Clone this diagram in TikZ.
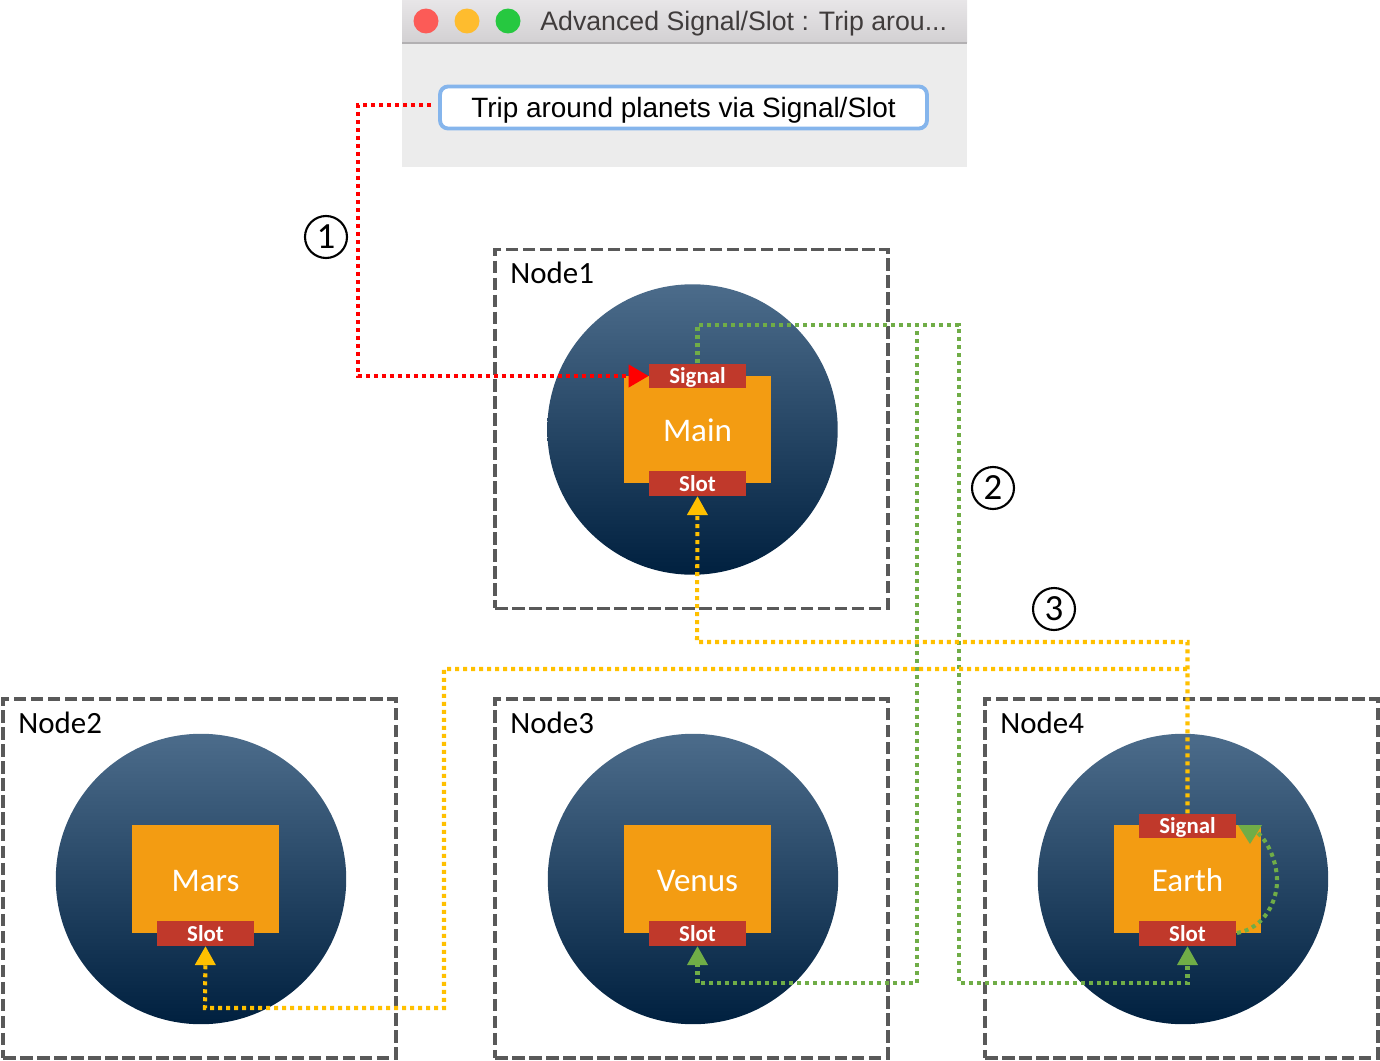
\documentclass[tikz,border=0pt]{standalone}
\usepackage{fontspec}
\setmainfont{Carlito}
\newfontfamily\macfont{Liberation Sans}
\usetikzlibrary{arrows.meta}

\definecolor{boxgray}{HTML}{595959}
\definecolor{planettop}{HTML}{4C6C8B}
\definecolor{planetbot}{HTML}{00203F}
\definecolor{objorange}{HTML}{F39C12}
\definecolor{portred}{HTML}{C0392B}
\definecolor{linkgreen}{HTML}{70AD47}
\definecolor{linkyellow}{HTML}{FFC000}
\definecolor{btnblue}{HTML}{85B5EC}

\tikzset{
  nodebox/.style    = {draw=boxgray, line width=2pt, dash pattern=on 0.25cm off 0.09cm, minimum width=7.86cm, minimum height=7.18cm},
  nodelabel/.style  = {font=\fontsize{17.6}{20}\selectfont, inner sep=0pt, anchor=base west},
  planet/.style     = {circle, minimum size=5.81cm, inner sep=0pt, top color=planettop, bottom color=planetbot},
  obj/.style        = {fill=objorange, minimum width=2.94cm, minimum height=2.16cm, inner sep=0pt, text=white, text height=0.5cm, text depth=0pt, font=\fontsize{18.8}{20}\selectfont},
  port/.style       = {fill=portred, minimum width=1.94cm, minimum height=0.49cm, inner sep=0pt, text=white, text height=0.31cm, text depth=0pt, font=\fontsize{13}{15}\selectfont\bfseries},
  link/.style       = {line width=2.3pt, dash pattern=on 0.08cm off 0.08cm},
  redlink/.style    = {link, red, -{Triangle[length=0.4cm, width=0.44cm]}},
  greenlink/.style  = {link, linkgreen, -{Triangle[length=0.38cm, width=0.4cm]}},
  yellowlink/.style = {link, linkyellow, -{Triangle[length=0.38cm, width=0.4cm]}},
  stepmark/.style   = {circle, draw, line width=1.2pt, minimum size=0.84cm, inner sep=0pt, font=\fontsize{21}{22}\selectfont},
  light/.style      = {circle, minimum size=0.5cm, inner sep=0pt},
}

\begin{document}
\begin{tikzpicture}[x=0.02cm, y=-0.02cm]
\useasboundingbox (0,0) rectangle (1380,1061);

%%%%------------Window----------------%%
\fill [color={rgb,255:red,236;green,236;blue,236}] (402,0) rectangle (967,167)	;
\shade [top color={rgb,255:red,232;green,230;blue,232}, bottom color={rgb,255:red,210;green,208;blue,210}] (402,0) rectangle (967,43) ;
\draw [color={rgb,255:red,178;green,176;blue,178}, line width=0.8pt] (402,43) -- (967,43) ;
\node [light, fill={rgb,255:red,252;green,91;blue,87}] (closebtn) at (426,21) {}	;
\node [light, fill={rgb,255:red,254;green,188;blue,46}] (minbtn) at (467,21) {}	;
\node [light, fill={rgb,255:red,38;green,200;blue,64}] (maxbtn) at (508,21) {}	;
\node [right, inner sep=0pt, text depth=0pt, text={rgb,255:red,64;green,60;blue,60}, font=\macfont\fontsize{15.2}{18}\selectfont] (wintitle) at (540,21) {Advanced Signal/Slot : Trip arou...} ;
\node [draw=btnblue, fill=white, line width=2.2pt, rounded corners=0.16cm, minimum width=9.74cm, minimum height=0.84cm, inner sep=0pt, text depth=0pt, font=\macfont\fontsize{15.9}{18}\selectfont] (tripbtn) at (683.5,107.5) {Trip around planets via Signal/Slot} ;

%%%%------------Node boxes----------------%%
\node [nodebox] (node1) at (691.5,429) {}	;
\node [nodebox] (node2) at (199.5,878.5) {}	;
\node [nodebox] (node3) at (691.5,878.5) {}	;
\node [nodebox] (node4) at (1181.5,878.5) {}	;
\node [nodelabel] (node1txt) at (510,283) {Node1}	;
\node [nodelabel] (node2txt) at (18,733) {Node2}	;
\node [nodelabel] (node3txt) at (510,733) {Node3}	;
\node [nodelabel] (node4txt) at (1000,733) {Node4}	;

%%%%------------Planets----------------%%
\node [planet] (circmain) at (692.5,429.5) {}	;
\node [planet] (circmars) at (201,879) {}	;
\node [planet] (circvenus) at (693,879) {}	;
\node [planet] (circearth) at (1183,879) {}	;

\node [obj] (main) at (697.5,429.5) {Main}	;
\node [obj] (mars) at (205.5,879) {Mars}	;
\node [obj] (venus) at (697.5,879) {Venus}	;
\node [obj] (earth) at (1187.5,879) {Earth}	;

\node [port] (mainsignal) at (697.5,376) {Signal}	;
\node [port] (mainslot) at (697.5,483.5) {Slot}	;
\node [port] (marsslot) at (205.5,933.5) {Slot}	;
\node [port] (venusslot) at (697.5,933.5) {Slot}	;
\node [port] (earthsignal) at (1187.5,826) {Signal}	;
\node [port] (earthslot) at (1187.5,933.5) {Slot}	;

%%%-------------Links-------------%%%
\coordinate (redstart) at (431,105)	;
\coordinate (loopstart) at (1237,933)	;
\coordinate (loopend) at (1258,833)	;

\draw [redlink] (redstart) -- (358,105) |- (mainsignal.west)	;

\draw [greenlink] (mainsignal.north) |- (917,325) -- (917,983) -| (venusslot.south)	;
\draw [greenlink] (mainsignal.north) |- (959,325) -- (959,983) -| (earthslot.south)	;
\draw [link, linkgreen] (loopstart) .. controls (1265,928) and (1278,900) .. (1277,878) .. controls (1276,860) and (1268,842) .. (loopend) ;
\fill [linkgreen] (1238,825) -- (1262,825) -- (1250,844) -- cycle	;

\draw [yellowlink] (earthsignal.north) |- (697,642) -- (mainslot.south)	;
\draw [yellowlink] (1187,669) -- (444,669) |- (205,1008) -- (marsslot.south)	;

%%%-------------Numbers-------------%%%
\node [stepmark] (step1) at (326,237) {1}	;
\node [stepmark] (step2) at (993,488) {2}	;
\node [stepmark] (step3) at (1054,609) {3}	;

\end{tikzpicture}
\end{document}
